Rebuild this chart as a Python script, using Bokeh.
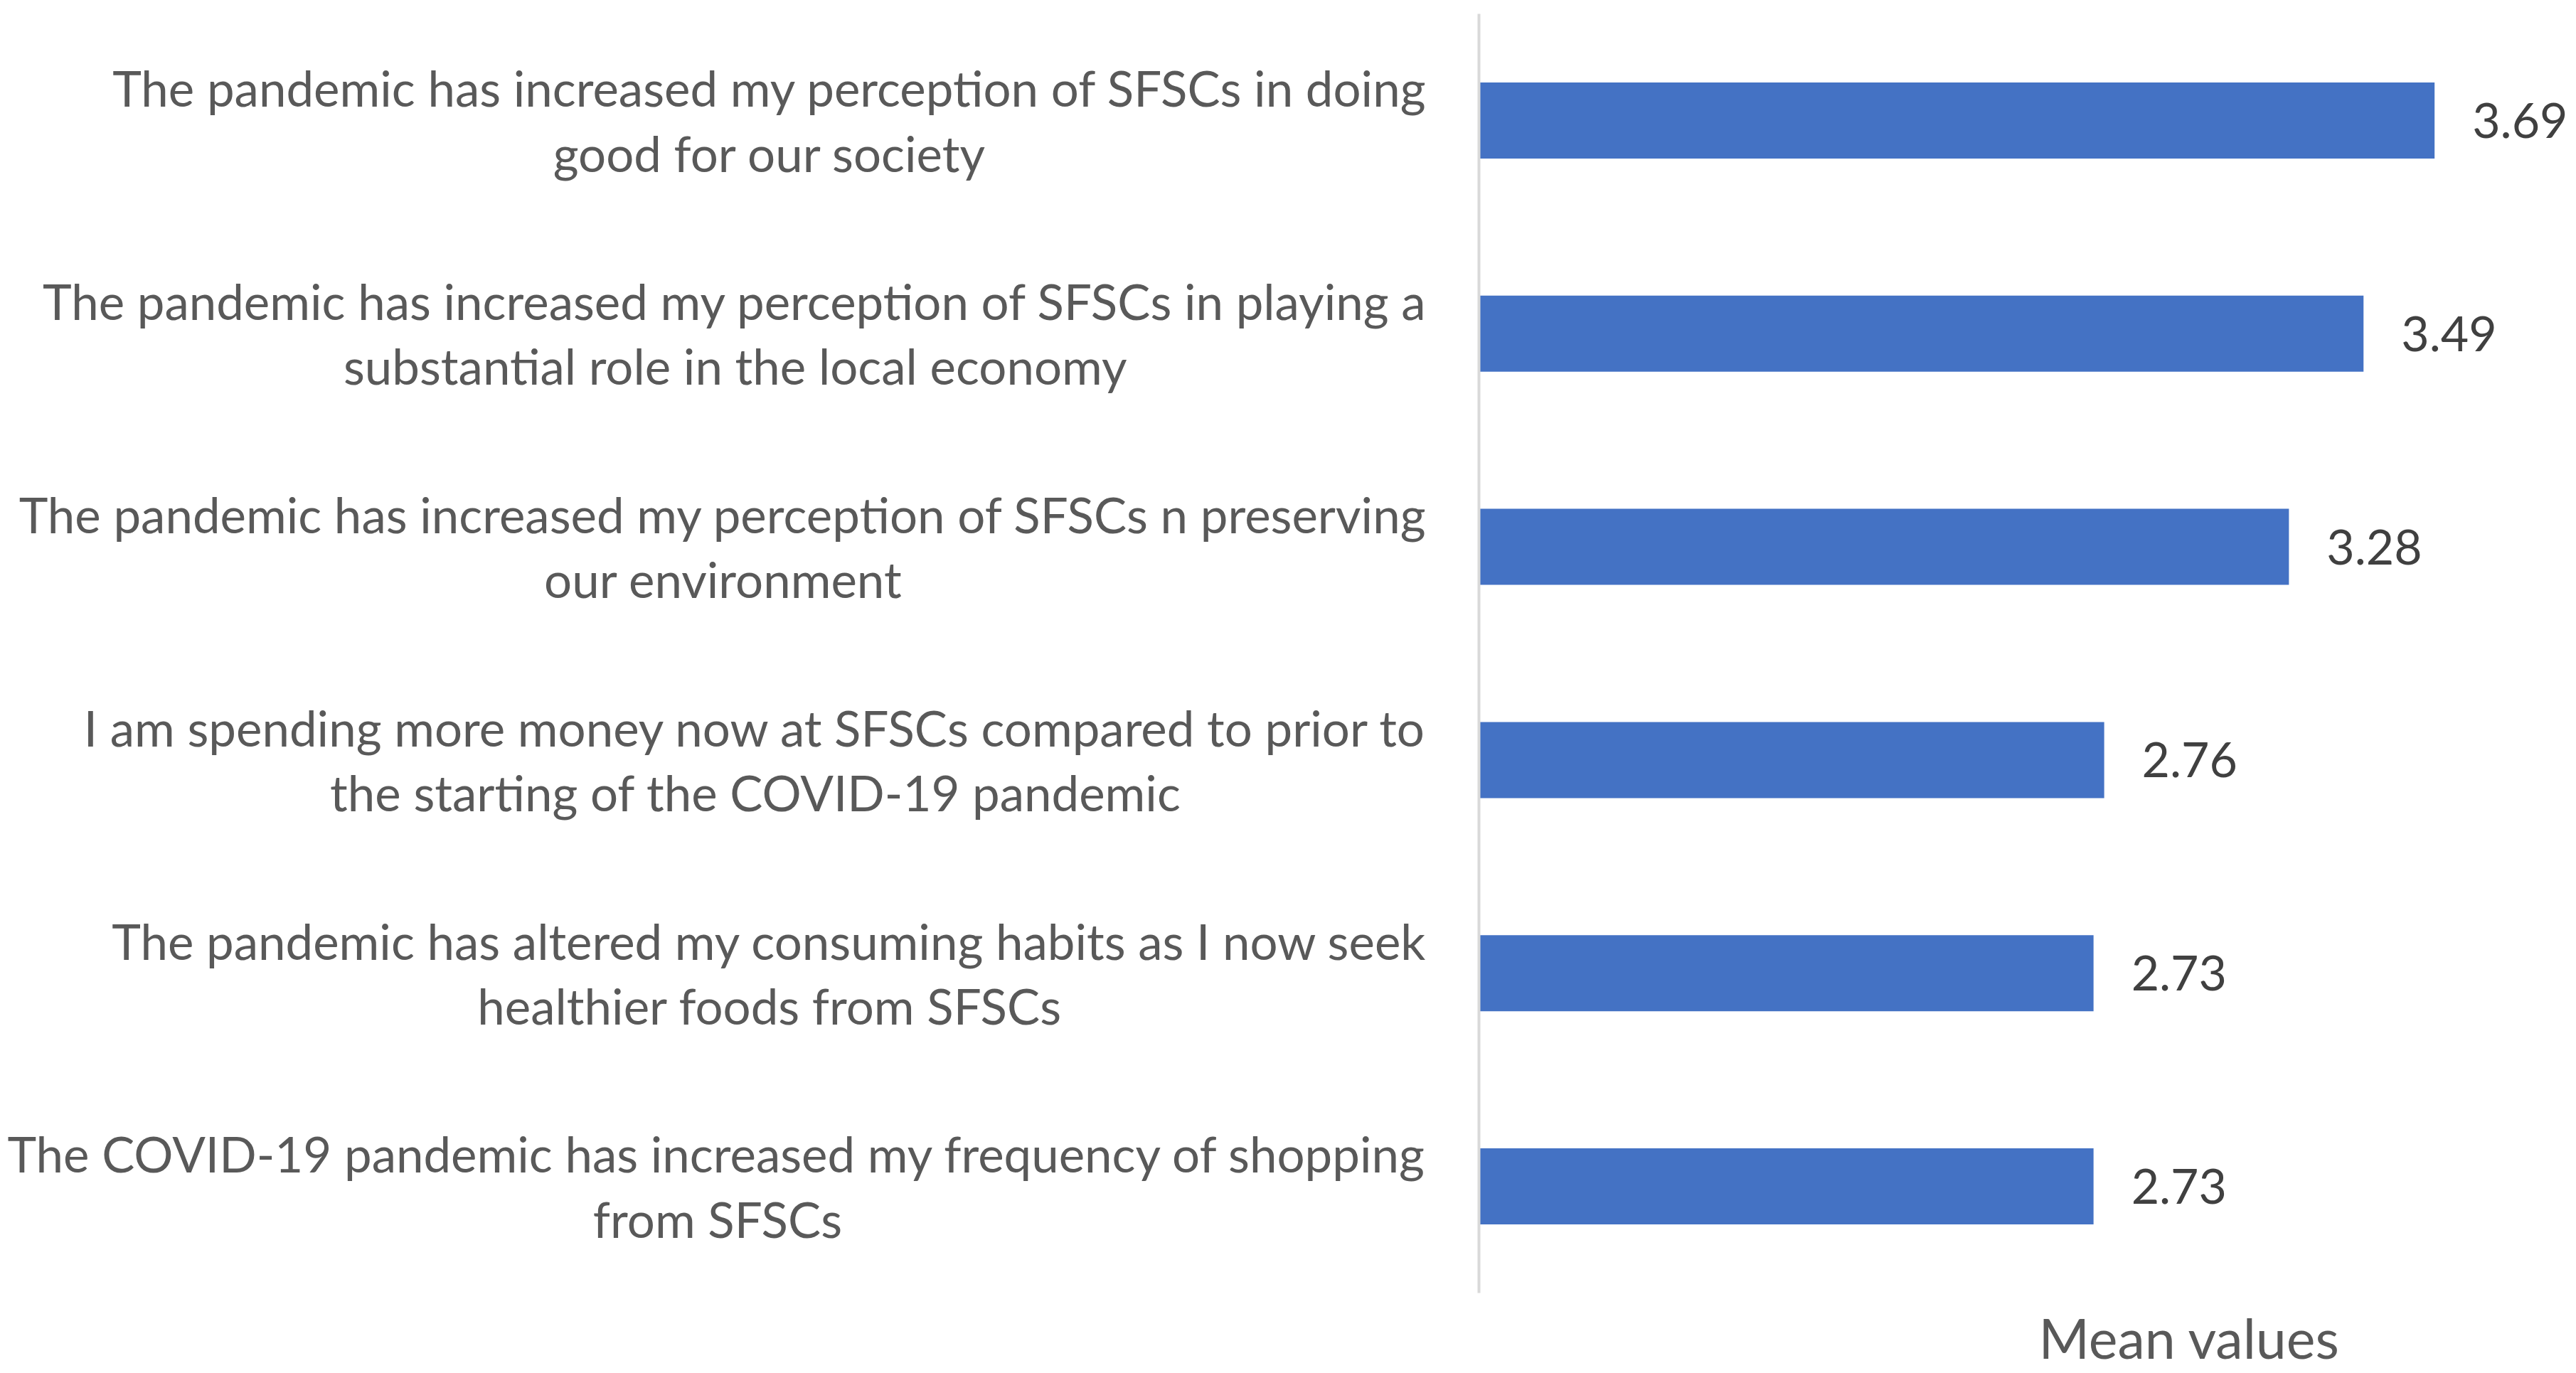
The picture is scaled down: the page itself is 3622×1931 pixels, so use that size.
from bokeh.plotting import figure
from bokeh.models import Range1d, Label, ColumnDataSource
from bokeh.core.properties import value
from bokeh.embed import file_html
from bokeh.resources import INLINE

# ---- data ----
statements = [
    "The pandemic has increased my perception of SFSCs in doing\ngood for our society",
    "The pandemic has increased my perception of SFSCs in playing a\nsubstantial role in the local economy",
    "The pandemic has increased my perception of SFSCs n preserving\nour environment",
    "I am spending more money now at SFSCs compared to prior to\nthe starting of the COVID-19 pandemic",
    "The pandemic has altered my consuming habits as I now seek\nhealthier foods from SFSCs",
    "The COVID-19 pandemic has increased my frequency of shopping\nfrom SFSCs",
]
means = [3.69, 3.49, 3.28, 2.76, 2.73, 2.73]
axis_title = "Mean values"
scale_min = 1
scale_mid = 3

# ---- layout (screen px) ----
W, H = 3616, 1930
AXIS_PX = 2079          # x of the value axis (value = scale_min)
PX_PER_UNIT = 499.5
LABEL_RIGHT_PX = 2007   # right edge of category label blocks
BAND_TOP_PX, BAND_BOTTOM_PX = 19, 1818
TITLE_MID_PX = 1880
FONT = "Lato"

n = len(statements)
BAND_PX = (BAND_BOTTOM_PX - BAND_TOP_PX) / n

def px_to_x(px):
    return scale_min + (px - AXIS_PX) / PX_PER_UNIT

def py_to_y(py):
    return (BAND_BOTTOM_PX - py) / BAND_PX

p = figure(
    width=W, height=H,
    x_range=Range1d(px_to_x(0), px_to_x(W)),
    y_range=Range1d(py_to_y(H), py_to_y(0)),
    x_axis_type=None, y_axis_type=None,
    output_backend="svg", toolbar_location=None,
    min_border_left=0, min_border_right=0,
    min_border_top=0, min_border_bottom=0,
)
p.outline_line_color = None
p.background_fill_color = "white"
p.border_fill_color = "white"
p.grid.visible = False

ypos = [n - 0.5 - i for i in range(n)]
src = ColumnDataSource(dict(
    cat=statements,
    y=ypos,
    mean=means,
    lbl=["{:.2f}".format(m) for m in means],
))

p.hbar(y="y", left=scale_min, right="mean", height=0.357, source=src,
       fill_color="#4472C4", line_color=None)

# vertical value axis line
p.segment(x0=[scale_min], y0=[0], x1=[scale_min], y1=[n],
          line_color="#D9D9D9", line_width=4)

# data labels
p.text(x="mean", y="y", text="lbl", source=src, x_offset=53,
       text_align="left", text_baseline="middle",
       text_font=value(FONT), text_font_size=value("68px"), text_color="#404040")

# category labels: block anchored at right, lines centred
p.text(x=px_to_x(LABEL_RIGHT_PX), y="y", text="cat", source=src,
       anchor=value("center_right"),
       text_align="center", text_baseline="middle", text_line_height=1.1,
       text_font=value(FONT), text_font_size=value("69px"), text_color="#595959")

p.add_layout(Label(x=scale_mid, y=py_to_y(TITLE_MID_PX), text=axis_title,
                   text_align="center", text_baseline="middle",
                   text_font=FONT, text_font_size="77px", text_color="#595959"))

open("out.html", "w").write(file_html(p, INLINE))
